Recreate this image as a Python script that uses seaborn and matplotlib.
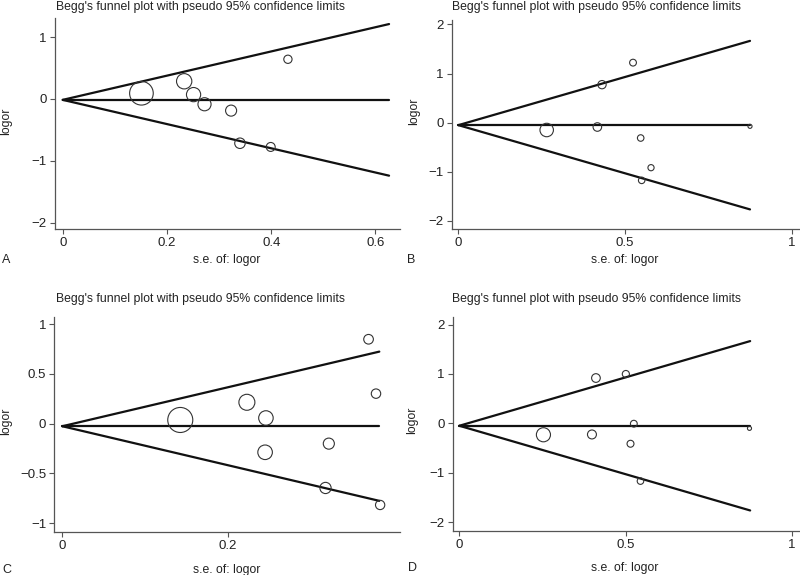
import numpy as np
import pandas as pd
import matplotlib
matplotlib.use("Agg")
import matplotlib.pyplot as plt
import seaborn as sns

# Begg's funnel plots, four panels (A-D)
# standard errors and log odds ratios
se_a = [0.151, 0.233, 0.251, 0.272, 0.323, 0.340, 0.399, 0.432]
lor_a = [0.092, 0.286, 0.070, -0.086, -0.189, -0.717, -0.777, 0.642]

se_b = [0.265, 0.417, 0.431, 0.524, 0.547, 0.550, 0.578, 0.875]
lor_b = [-0.149, -0.088, 0.774, 1.222, -0.312, -1.174, -0.916, -0.074]

se_c = [0.1425, 0.223, 0.246, 0.245, 0.322, 0.318, 0.370, 0.379, 0.384]
lor_c = [0.037, 0.215, 0.057, -0.288, -0.201, -0.647, 0.849, 0.302, -0.818]

se_d = [0.253, 0.399, 0.411, 0.501, 0.525, 0.515, 0.545, 0.873]
lor_d = [-0.231, -0.225, 0.918, 0.999, -0.007, -0.413, -1.169, -0.101]

# pooled estimate and how far the pseudo CI lines run
pooled = {"A": -0.015, "B": -0.05, "C": -0.026, "D": -0.049}
se_max = {"A": 0.626, "B": 0.875, "C": 0.383, "D": 0.875}

xticks = {"A": [0, 0.2, 0.4, 0.6], "B": [0, 0.5, 1], "C": [0, 0.2], "D": [0, 0.5, 1]}
yticks = {"A": [-2, -1, 0, 1], "B": [-2, -1, 0, 1, 2],
          "C": [-1, -0.5, 0, 0.5, 1], "D": [-2, -1, 0, 1, 2]}

TITLE = "Begg's funnel plot with pseudo 95% confidence limits"
XLAB = "s.e. of: logor"
YLAB = "logor"

W, H = 800, 575

# layout in pixels: axes box (left, top, right, bottom) and axis limits
layout = {
    "A": dict(box=(55, 18, 400, 229.3), xlim=(-0.0148, 0.647), ylim=(-2.11, 1.31),
              title=(200, 7), xlab=(226.7, 260), ylab=(6, 121.7), letter=(2, 260)),
    "B": dict(box=(451.7, 20, 800, 229.3), xlim=(-0.02, 1.025), ylim=(-2.17, 2.09),
              title=(596.7, 7), xlab=(625, 260), ylab=(414, 111.7), letter=(407, 260)),
    "C": dict(box=(54.3, 316.7, 400, 531.7), xlim=(-0.0097, 0.408), ylim=(-1.087, 1.076),
              title=(200, 299), xlab=(226.7, 570), ylab=(6, 421.7), letter=(2, 570)),
    "D": dict(box=(452.7, 316.7, 800, 531), xlim=(-0.02, 1.025), ylim=(-2.18, 2.16),
              title=(596.7, 299), xlab=(625, 568.3), ylab=(412, 420), letter=(408, 568.3)),
}

data = {"A": (se_a, lor_a), "B": (se_b, lor_b), "C": (se_c, lor_c), "D": (se_d, lor_d)}

sns.set_style("ticks")
plt.rcParams["font.family"] = ["Liberation Sans", "DejaVu Sans"]
plt.rcParams["axes.unicode_minus"] = True

AXCOL = "#555555"
fig = plt.figure(figsize=(W / 100, H / 100), dpi=100)


def fx(px):
    return px / W


def fy(py):
    return 1 - py / H


def fmt(v):
    return f"{v:g}".replace("-", "\u2212")


for key in ["A", "B", "C", "D"]:
    lay = layout[key]
    l, t, r, b = lay["box"]
    ax = fig.add_axes([fx(l), fy(b), (r - l) / W, (b - t) / H])

    se, lor = data[key]
    df = pd.DataFrame({"se": se, "lor": lor})
    df["w"] = 1 / df["se"] ** 2  # marker area follows the study weight

    m = pooled[key]
    grid = pd.DataFrame({"se": [0, se_max[key]]})
    grid["mid"] = m
    grid["upper"] = m + 1.96 * grid["se"]
    grid["lower"] = m - 1.96 * grid["se"]
    for col in ["upper", "mid", "lower"]:
        sns.lineplot(data=grid, x="se", y=col, ax=ax, color="#111111", lw=1.6)

    sns.scatterplot(data=df, x="se", y="lor", size="w", sizes=(0, 660),
                    size_norm=(0, 100), legend=False, ax=ax, marker="o",
                    facecolor="none", edgecolor="#333333", linewidth=0.8, zorder=3)

    ax.set_xlim(*lay["xlim"])
    ax.set_ylim(*lay["ylim"])
    ax.set_xticks(xticks[key])
    ax.set_xticklabels([fmt(v) for v in xticks[key]])
    ax.set_yticks(yticks[key])
    ax.set_yticklabels([fmt(v) for v in yticks[key]])
    ax.set_xlabel("")
    ax.set_ylabel("")
    ax.patch.set_alpha(0)
    sns.despine(ax=ax)
    for s in ["left", "bottom"]:
        ax.spines[s].set_color(AXCOL)
        ax.spines[s].set_linewidth(0.9)
    ax.tick_params(direction="out", length=3.3, width=0.8, color=AXCOL,
                   labelsize=9.5, labelcolor="#222222", pad=2.5)

    fig.text(fx(lay["title"][0]), fy(lay["title"][1]), TITLE, ha="center", va="center",
             fontsize=8.8, color="#222222")
    fig.text(fx(lay["xlab"][0]), fy(lay["xlab"][1]), XLAB, ha="center", va="center",
             fontsize=8.8, color="#222222")
    fig.text(fx(lay["ylab"][0]), fy(lay["ylab"][1]), YLAB, ha="center", va="center",
             rotation=90, fontsize=8.8, color="#222222")
    fig.text(fx(lay["letter"][0]), fy(lay["letter"][1]), key, ha="left", va="center",
             fontsize=9, color="#222222")

fig.savefig("out.png", dpi=100, facecolor="white")
